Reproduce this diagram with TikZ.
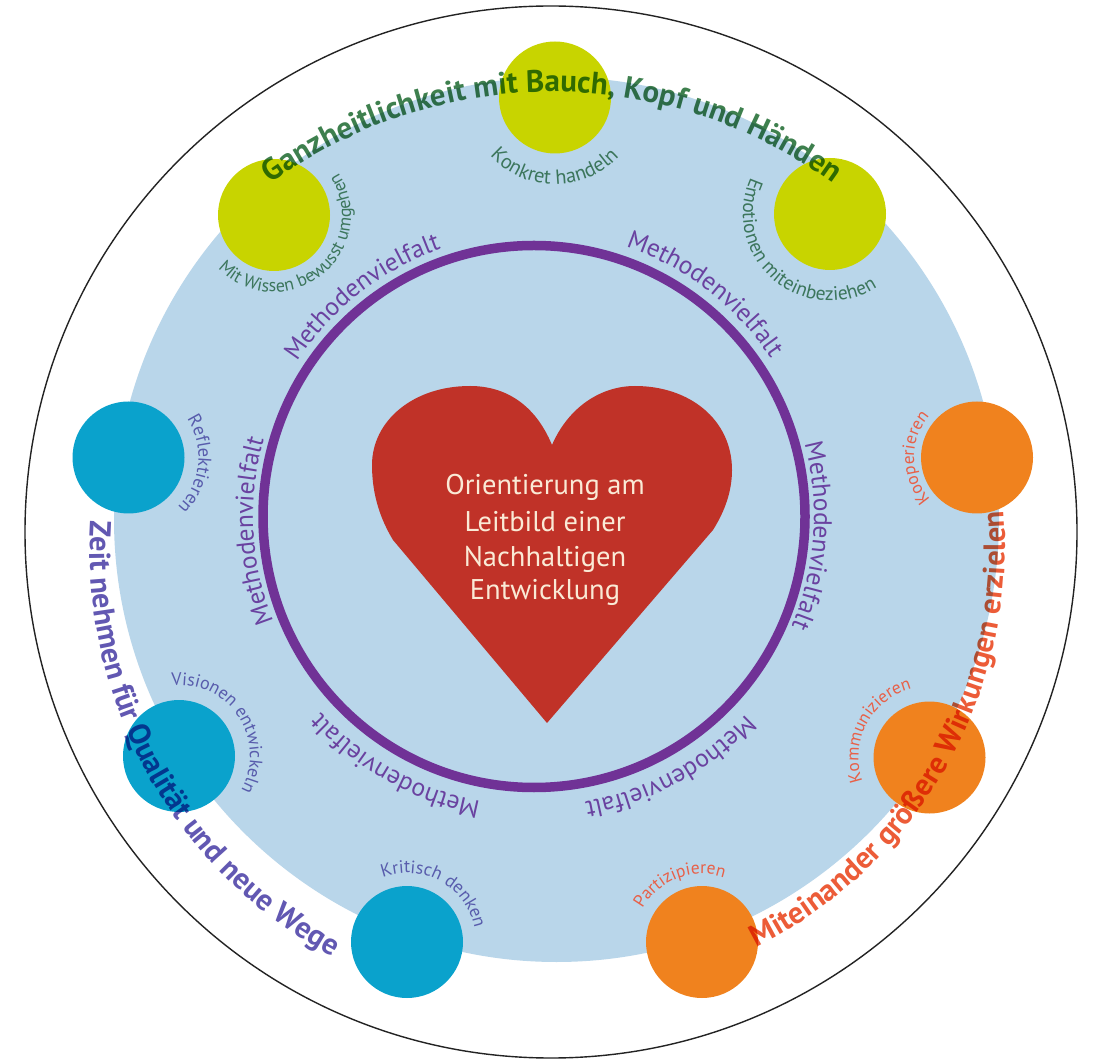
\documentclass[tikz,border=0pt]{standalone}
\usepackage{fontspec}
\setmainfont{PT Sans}
\usetikzlibrary{decorations.text}
\definecolor{outerline}{RGB}{35,35,35}
\definecolor{disk}{RGB}{185,214,234}
\definecolor{ringpurple}{RGB}{112,50,150}
\definecolor{heartred}{RGB}{192,50,40}
\definecolor{hearttextcol}{RGB}{250,234,214}
\definecolor{limegreen}{RGB}{200,212,0}
\definecolor{cyanblue}{RGB}{10,162,204}
\definecolor{orangec}{RGB}{240,130,30}
\definecolor{greentext}{RGB}{62,128,78}
\definecolor{greensmall}{RGB}{60,118,92}
\definecolor{bluetext}{RGB}{98,88,178}
\definecolor{bluesmall}{RGB}{88,92,172}
\definecolor{orangetext}{RGB}{236,92,56}
\definecolor{orangesmall}{RGB}{232,96,72}
\definecolor{methodpurple}{RGB}{106,66,160}
\newcommand{\BigSans}[1]{\fontsize{#1}{#1}\selectfont\bfseries}
\newcommand{\MethSans}{\fontsize{25.5}{25.5}\selectfont\color{methodpurple}}
\newcommand{\ArcText}[6]{%
  \path[shift={(#1)}, decorate,
        decoration={text along path, text align=center, text={|#5|#6}}]
    (#3:#2) arc[start angle=#3, end angle=#4, radius=#2];}
\tikzset{
  bubble/.style={circle, minimum size=112pt, inner sep=0pt, draw=none},
  greenbubble/.style={bubble, fill=limegreen},
  bluebubble/.style={bubble, fill=cyanblue},
  orangebubble/.style={bubble, fill=orangec},
  hearttxt/.style={anchor=base, inner sep=0pt, text=hearttextcol,
                   font=\fontsize{28.5}{28.5}\selectfont}
}
\begin{document}
\begin{tikzpicture}[x=1pt,y=1pt]
\useasboundingbox (0,0) rectangle (1097,1061);
\fill[white] (0,0) rectangle (1097,1061);
% outer circle
\draw[outerline, line width=1.4pt] (551,529) circle[radius=526];
% light blue disc
\fill[disk] (556.5,541.5) circle[radius=442.5];
% purple ring
\draw[ringpurple, line width=9.5pt] (534,544.5) circle[radius=271];
% heart
\fill[heartred] (552,616) .. controls (535,657) and (505,675) .. (470,675)
  .. controls (413,675) and (372,640) .. (372,596)
  .. controls (372,565) and (381,541) .. (393,521)
  -- (547,338) -- (713,531)
  .. controls (725,550) and (732,570) .. (732,591)
  .. controls (732,641) and (690,675) .. (635,675)
  .. controls (600,675) and (568,653) .. (552,616) -- cycle;
\node[hearttxt] (h1) at (545,566) {Orientierung am};
\node[hearttxt] (h2) at (545,529) {Leitbild einer};
\node[hearttxt] (h3) at (545,494) {Nachhaltigen};
\node[hearttxt] (h4) at (545,461) {Entwicklung};
% Methodenvielfalt around the ring
\ArcText{534,544.5}{283}{168}{88}{\MethSans}{Methodenvielfalt}
\ArcText{534,544.5}{285}{92.5}{12.5}{\MethSans}{Methodenvielfalt}
\ArcText{534,544.5}{281}{223}{143}{\MethSans}{Methodenvielfalt}
\ArcText{534,544.5}{280}{36}{-44}{\MethSans}{Methodenvielfalt}
\ArcText{534,544.5}{290}{-79}{-159}{\MethSans}{Methodenvielfalt}
\ArcText{534,544.5}{290}{-21.5}{-101.5}{\MethSans}{Methodenvielfalt}
% small circles
\node[greenbubble] (wissen) at (274,846) {};
\node[greenbubble] (konkret) at (555,963.5) {};
\node[greenbubble] (emotion) at (830,847) {};
\node[bluebubble] (reflekt) at (128.5,603.5) {};
\node[bluebubble] (vision) at (179,305) {};
\node[bluebubble] (kritisch) at (407,119) {};
\node[orangebubble] (kooper) at (977,603.5) {};
\node[orangebubble] (kommun) at (929.5,303.5) {};
\node[orangebubble] (partiz) at (702,119) {};
% small labels
\ArcText{555,963.5}{87}{-180.5}{-0.5}{\fontsize{20.5}{20.5}\selectfont\color{greensmall}}{Konkret handeln}
\ArcText{274,846}{77}{-161.6}{58.4}{\fontsize{18}{18}\selectfont\color{greensmall}}{Mit Wissen bewusst umgehen}
\ArcText{830,847}{87}{119}{339}{\fontsize{19.5}{19.5}\selectfont\color{greensmall}}{Emotionen miteinbeziehen}
\ArcText{128.5,603.5}{70}{54}{-66}{\fontsize{18.5}{18.5}\selectfont\color{bluesmall}}{Reflektieren}
\ArcText{179,305}{71}{133.5}{-66.5}{\fontsize{18}{18}\selectfont\color{bluesmall}}{Visionen entwickeln}
\ArcText{407,119}{69}{141}{-19}{\fontsize{18}{18}\selectfont\color{bluesmall}}{Kritisch denken}
\ArcText{977,603.5}{63}{240.5}{120.5}{\fontsize{17.5}{17.5}\selectfont\color{orangesmall}}{Kooperieren}
\ArcText{929.5,303.5}{71}{222}{82}{\fontsize{17.5}{17.5}\selectfont\color{orangesmall}}{Kommunizieren}
\ArcText{702,119}{68}{171}{51}{\fontsize{17.5}{17.5}\selectfont\color{orangesmall}}{Partizipieren}
% big arc texts
\begin{scope}[blend mode=multiply]
\ArcText{552,492}{477}{150}{30}{\BigSans{31}\color{greentext}}{Ganzheitlichkeit mit Bauch, Kopf und Händen}
\ArcText{552,511}{462}{149}{269}{\BigSans{30.2}\color{bluetext}}{Zeit nehmen für Qualität und neue Wege}
\ArcText{555,516}{450}{-89.5}{30.5}{\BigSans{30.5}\color{orangetext}}{Miteinander größere Wirkungen erzielen}
\end{scope}
\end{tikzpicture}
\end{document}
